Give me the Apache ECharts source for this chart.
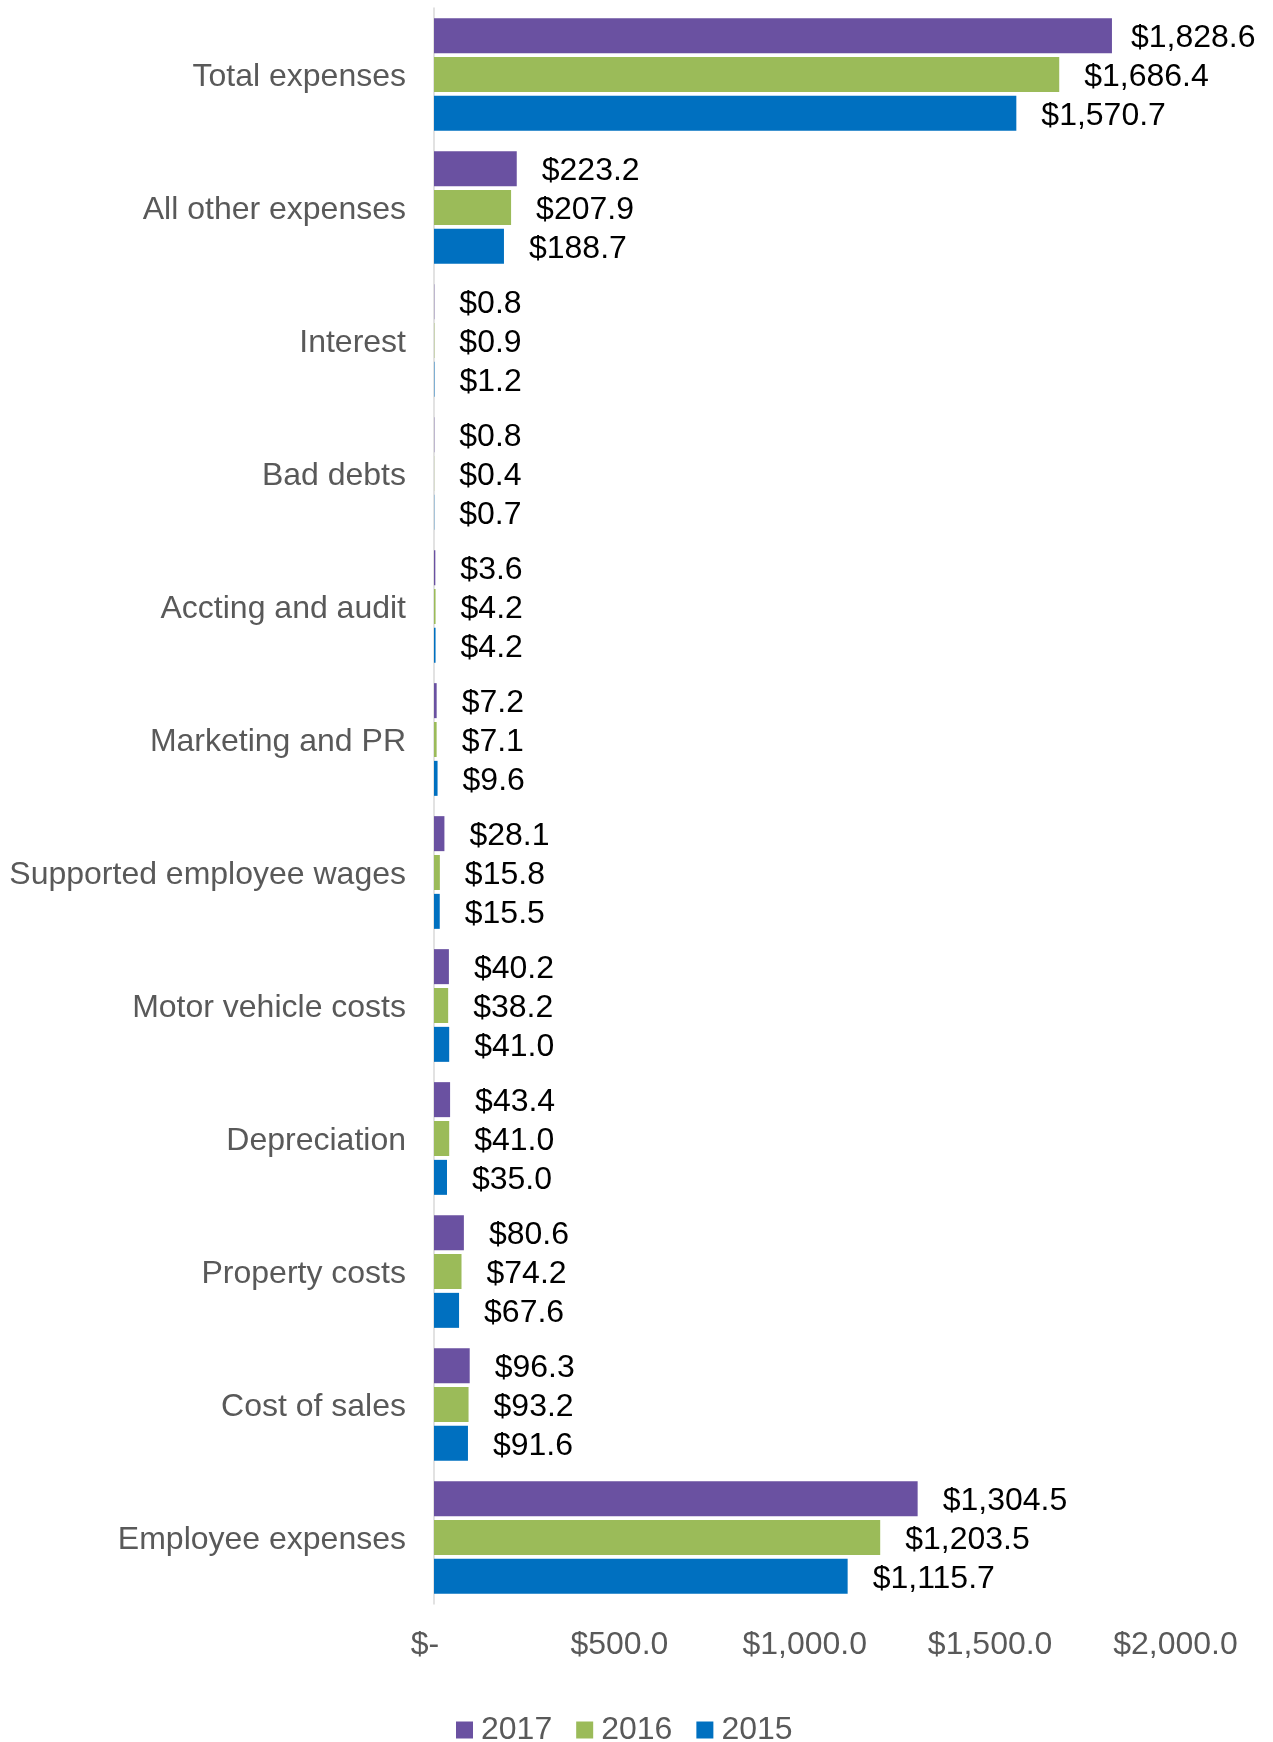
<!DOCTYPE html>
<html>
<head>
<meta charset="utf-8">
<title>Expenses by category</title>
<script src="https://cdn.jsdelivr.net/npm/echarts@6/dist/echarts.min.js"></script>
<style>
  html, body { margin: 0; padding: 0; background: #ffffff; }
  #chart { width: 1273px; height: 1742px; }
</style>
</head>
<body>
<div id="chart"></div>
<script>
// Expense categories, listed top to bottom
const categories = [
  'Total expenses', 'All other expenses', 'Interest', 'Bad debts',
  'Accting and audit', 'Marketing and PR', 'Supported employee wages',
  'Motor vehicle costs', 'Depreciation', 'Property costs', 'Cost of sales',
  'Employee expenses'
];

// Values in $ (thousands) per year
const years = ['2017', '2016', '2015'];
const values2017 = [1828.6, 223.2, 0.8, 0.8, 3.6, 7.2, 28.1, 40.2, 43.4, 80.6, 96.3, 1304.5];
const values2016 = [1686.4, 207.9, 0.9, 0.4, 4.2, 7.1, 15.8, 38.2, 41.0, 74.2, 93.2, 1203.5];
const values2015 = [1570.7, 188.7, 1.2, 0.7, 4.2, 9.6, 15.5, 41.0, 35.0, 67.6, 91.6, 1115.7];

// Value axis ticks
const axisMin = 0;
const axisMax = 2000;
const axisStep = 500;

const colors = ['#6A51A1', '#9BBB59', '#0070C0'];
const FONT = '"Liberation Sans", Arial, sans-serif';
const SIZE = 32;

function money(v) {
  return '$' + v.toLocaleString('en-US', { minimumFractionDigits: 1, maximumFractionDigits: 1 });
}

function makeSeries(name, vals, color) {
  return {
    name: name,
    type: 'bar',
    barWidth: 35,
    barGap: '11%',
    itemStyle: { color: color },
    label: {
      show: true,
      position: 'right',
      distance: 25,
      offset: [0, 3],
      color: '#000000',
      fontFamily: FONT,
      fontSize: SIZE,
      formatter: p => money(p.value)
    },
    // long labels near the right edge are pulled in to stay inside the chart
    data: vals.map(v => (v > 1750 ? { value: v, label: { distance: 19 } } : v))
  };
}

const chart = echarts.init(document.getElementById('chart'), null, { renderer: 'canvas' });

chart.setOption({
  animation: false,
  backgroundColor: '#ffffff',
  grid: { left: 434, right: 97.5, top: 8, height: 1596, containLabel: false },
  legend: {
    data: years,
    left: 451,
    top: 1709,
    itemWidth: 17,
    itemHeight: 17,
    itemGap: 24,
    icon: 'rect',
    textStyle: { color: '#595959', fontFamily: FONT, fontSize: SIZE, padding: [0, 0, 0, 3] }
  },
  xAxis: {
    type: 'value',
    min: axisMin,
    max: axisMax,
    interval: axisStep,
    splitLine: { show: false },
    axisLine: { show: false },
    axisTick: { show: false },
    axisLabel: {
      color: '#595959',
      fontFamily: FONT,
      fontSize: SIZE,
      margin: 25,
      formatter: v => (v === 0 ? '{z|$-}' : money(v)),
      rich: { z: { color: '#595959', fontFamily: FONT, fontSize: SIZE, padding: [0, 18, 0, 0] } }
    }
  },
  yAxis: {
    type: 'category',
    inverse: true,
    data: categories,
    axisLine: { show: true, lineStyle: { color: '#D9D9D9', width: 1.5 } },
    axisTick: { show: false },
    axisLabel: {
      margin: 28,
      formatter: v => '{c|' + v + '}',
      rich: { c: { color: '#595959', fontFamily: FONT, fontSize: SIZE, padding: [5, 0, 0, 0] } }
    }
  },
  series: [
    makeSeries(years[0], values2017, colors[0]),
    makeSeries(years[1], values2016, colors[1]),
    makeSeries(years[2], values2015, colors[2])
  ]
});
</script>
</body>
</html>
